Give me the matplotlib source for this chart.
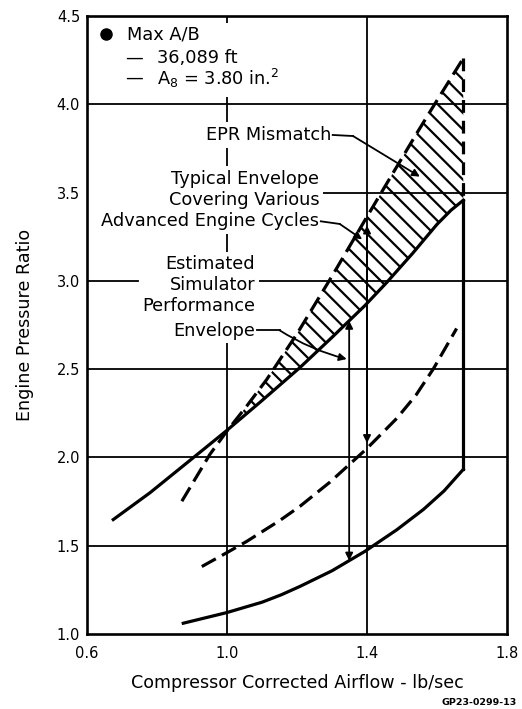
import numpy as np
import matplotlib
matplotlib.use('Agg')
import matplotlib.pyplot as plt
from matplotlib.patches import Rectangle

# ---------------- data ----------------
# main solid curve (lower boundary of the hatched envelope)
main_x = [0.675, 0.78, 0.909, 0.999, 1.10, 1.209, 1.30, 1.394, 1.456, 1.53, 1.60, 1.64, 1.675]
main_y = [1.648, 1.80, 2.007, 2.152, 2.322, 2.51, 2.68, 2.86, 2.99, 3.155, 3.32, 3.40, 3.456]

# upper dashed curve (upper boundary of the hatched envelope)
upper_dash_x = [0.871, 0.951, 1.0, 1.056, 1.113, 1.20, 1.304, 1.399, 1.456, 1.542, 1.59, 1.675]
upper_dash_y = [1.752, 2.017, 2.15, 2.29, 2.44, 2.70, 3.04, 3.36, 3.55, 3.835, 3.99, 4.26]

# lower solid curve
lower_x = [0.875, 0.999, 1.10, 1.155, 1.209, 1.30, 1.394, 1.485, 1.561, 1.62, 1.675]
lower_y = [1.061, 1.121, 1.18, 1.222, 1.27, 1.358, 1.468, 1.59, 1.705, 1.81, 1.932]

# lower dashed curve
lower_dash_x = [0.928, 0.999, 1.056, 1.151, 1.209, 1.294, 1.399, 1.485, 1.54, 1.59, 1.656]
lower_dash_y = [1.382, 1.460, 1.524, 1.643, 1.724, 1.86, 2.049, 2.221, 2.353, 2.503, 2.73]

x_ticks = [0.6, 1.0, 1.4, 1.8]
x_tick_labels = ['0.6', '1.0', '1.4', '1.8']
y_ticks = [1.0, 1.5, 2.0, 2.5, 3.0, 3.5, 4.0, 4.5]
y_tick_labels = ['1.0', '1.5', '2.0', '2.5', '3.0', '3.5', '4.0', '4.5']

legend_items = ['Max A/B', '36,089 ft', 'A$_8$ = 3.80 in.$^2$']
sim_x = 1.349      # x of the simulator-envelope double arrow
typ_x = 1.4        # x of the typical-envelope double arrow

# ---------------- style ----------------
plt.rcParams['font.family'] = ['DejaVu Sans']
plt.rcParams['mathtext.default'] = 'regular'
plt.rcParams['hatch.linewidth'] = 1.6

fig = plt.figure(figsize=(5.22, 7.09), dpi=100)
ax = fig.add_axes([0.1667, 0.1058, 0.8046, 0.8717])
ax.set_xlim(0.6, 1.8)
ax.set_ylim(1.0, 4.5)
ax.set_xticks(x_ticks)
ax.set_xticklabels(x_tick_labels)
ax.set_yticks(y_ticks)
ax.set_yticklabels(y_tick_labels)
ax.tick_params(axis='both', length=0, labelsize=10.5)
ax.tick_params(axis='x', pad=9)
ax.tick_params(axis='y', pad=5)
for s in ax.spines.values():
    s.set_linewidth(1.9)

# grid
glw = 1.3
for yv in [1.5, 2.0, 2.5, 4.0]:
    ax.axhline(yv, color='k', lw=glw, zorder=1)
ax.axhline(3.0, xmin=0.0, xmax=(0.745 - 0.6) / 1.2, color='k', lw=glw, zorder=1)
ax.axhline(3.0, xmin=(1.07 - 0.6) / 1.2, xmax=1.0, color='k', lw=glw, zorder=1)
ax.axhline(3.5, xmin=(1.25 - 0.6) / 1.2, xmax=1.0, color='k', lw=glw, zorder=1)
for xv in [1.0, 1.4]:
    ax.axvline(xv, color='k', lw=glw, zorder=1)

# legend white area over the grid line
ax.add_patch(Rectangle((0.61, 4.04), 0.62, 0.42, facecolor='white',
                       edgecolor='none', zorder=2))

# hatched envelope
xf = np.linspace(1.0, main_x[-1], 400)
y_lo = np.interp(xf, main_x, main_y)
y_hi = np.interp(xf, upper_dash_x, upper_dash_y)
ax.fill_between(xf, y_lo, y_hi, where=y_hi >= y_lo, facecolor='none',
                edgecolor='k', hatch='\\\\', linewidth=0, zorder=2)

lw = 2.3
ax.plot(main_x, main_y, color='k', lw=lw, solid_joinstyle='round', zorder=4)
ax.plot(lower_x, lower_y, color='k', lw=lw, solid_joinstyle='round', zorder=4)
ax.plot([lower_x[-1], main_x[-1]], [lower_y[-1], main_y[-1]], color='k', lw=lw, zorder=4)
ax.plot(upper_dash_x, upper_dash_y, color='k', lw=lw, dashes=(5, 2.2), zorder=4)
ax.plot([upper_dash_x[-1], upper_dash_x[-1]], [upper_dash_y[-1], main_y[-1]],
        color='k', lw=lw, dashes=(4, 2.5), zorder=4)
ax.plot(lower_dash_x, lower_dash_y, color='k', lw=lw, dashes=(5, 2.2), zorder=4)

# legend
ax.plot([0.653], [4.395], 'o', color='k', ms=8, zorder=5)
ax.text(0.713, 4.395, legend_items[0], fontsize=12.8, va='center', ha='left', zorder=5)
ax.text(0.709, 4.262, '—', fontsize=12.8, va='center', ha='left', zorder=5)
ax.text(0.799, 4.262, legend_items[1], fontsize=12.8, va='center', ha='left', zorder=5)
ax.text(0.709, 4.148, '—', fontsize=12.8, va='center', ha='left', zorder=5)
ax.text(0.799, 4.148, legend_items[2], fontsize=12.8, va='center', ha='left', zorder=5)

# annotation texts
fs = 12.8
box = dict(facecolor='white', edgecolor='none', pad=2.5)
ax.text(1.297, 3.826, 'EPR Mismatch', fontsize=fs, ha='right', va='center', bbox=box, zorder=3)
for txt, yy in [('Typical Envelope', 3.577), ('Covering Various', 3.456),
                ('Advanced Engine Cycles', 3.337)]:
    ax.text(1.264, yy, txt, fontsize=fs, ha='right', va='center', bbox=box, zorder=3)
for txt, yy in [('Estimated', 3.093), ('Simulator', 2.977), ('Performance', 2.86),
                ('Envelope', 2.717)]:
    ax.text(1.08, yy, txt, fontsize=fs, ha='right', va='center', bbox=box, zorder=3)

# arrows
al = 1.3
def arrow(p0, p1, style='-|>', rad=0.0):
    ax.annotate('', xy=p1, xytext=p0,
                arrowprops=dict(arrowstyle=style, color='k', lw=al, mutation_scale=11,
                                shrinkA=0, shrinkB=0,
                                connectionstyle='arc3,rad=%g' % rad), zorder=5)

ax.plot([1.302, 1.36], [3.826, 3.82], color='k', lw=al, zorder=5)
arrow((1.36, 3.82), (1.551, 3.59))
ax.plot([1.268, 1.322], [3.337, 3.322], color='k', lw=al, zorder=5)
arrow((1.322, 3.322), (1.386, 3.235))
ax.plot([1.085, 1.15], [2.72, 2.72], color='k', lw=al, zorder=5)
arrow((1.15, 2.72), (1.342, 2.557), rad=0.08)

sim_lo = np.interp(sim_x, lower_x, lower_y)
sim_hi = np.interp(sim_x, main_x, main_y)
arrow((sim_x, sim_lo), (sim_x, sim_hi), style='<|-|>')
typ_lo = np.interp(typ_x, lower_dash_x, lower_dash_y) + 0.03
typ_hi = np.interp(typ_x, upper_dash_x, upper_dash_y) - 0.05
arrow((typ_x, typ_lo), (typ_x, typ_hi), style='<|-|>')

# axis labels
fig.text(25 / 522, 1 - 325 / 709, 'Engine Pressure Ratio', rotation=90,
         fontsize=12.6, ha='center', va='center')
fig.text(297 / 522, 1 - 683 / 709, 'Compressor Corrected Airflow - lb/sec',
         fontsize=12.6, ha='center', va='center')
fig.text(517 / 522, 0.003, 'GP23-0299-13', fontsize=6.8, fontweight='bold',
         ha='right', va='bottom')

fig.savefig('out.png', dpi=100)
